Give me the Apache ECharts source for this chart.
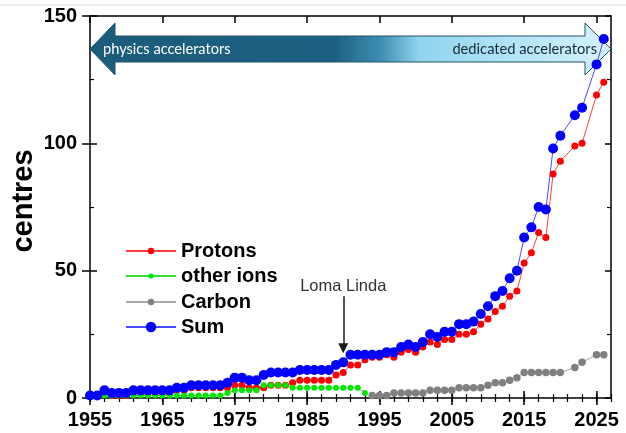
<!DOCTYPE html>
<html><head><meta charset="utf-8">
<script src="https://cdn.jsdelivr.net/npm/echarts@6/dist/echarts.min.js"></script>
<style>html,body{margin:0;padding:0;background:#fff}#c{width:626px;height:433px}</style>
</head><body><div id="c"></div>
<script>
// ---- data ----
const years = [
  1955,1956,1957,1958,1959,1960,1961,1962,1963,1964,
  1965,1966,1967,1968,1969,1970,1971,1972,1973,1974,
  1975,1976,1977,1978,1979,1980,1981,1982,1983,1984,
  1985,1986,1987,1988,1989,1990,1991,1992,1993,1994,
  1995,1996,1997,1998,1999,2000,2001,2002,2003,2004,
  2005,2006,2007,2008,2009,2010,2011,2012,2013,2014,
  2015,2016,2017,2018,2019,2020,
  2022,2023,2025,2026
];
const protons = [
  1,1,2,1,1,1,2,2,2,2,
  2,2,3,3,4,4,4,4,4,4,
  5,5,4,4,4,5,5,5,6,7,
  7,7,7,7,9,10,13,13,15,16,
  16,17,16,18,19,18,20,22,21,23,
  23,25,25,26,29,31,34,36,40,42,
  53,57,65,63,88,93,
  99,100,119,124
];
const otherIons = [
  null,null,1,1,1,1,1,1,1,1,
  1,1,1,1,1,1,1,1,1,2,
  3,3,3,3,5,5,5,5,4,4,
  4,4,4,4,4,4,4,4,2,null,
  null,null,null,null,null,null,null,null,null,null,
  null,null,null,null,null,null,null,null,null,null,
  null,null,null,null,null,null,
  null,null,null,null
];
const carbon = [
  null,null,null,null,null,null,null,null,null,null,
  null,null,null,null,null,null,null,null,null,null,
  null,null,null,null,null,null,null,null,null,null,
  null,null,null,null,null,null,null,null,null,1,
  1,1,2,2,2,2,2,3,3,3,
  3,4,4,4,4,5,6,6,7,8,
  10,10,10,10,10,10,
  12,14,17,17
];
const sum = [
  1,1,3,2,2,2,3,3,3,3,
  3,3,4,4,5,5,5,5,5,6,
  8,8,7,7,9,10,10,10,10,11,
  11,11,11,11,13,14,17,17,17,17,
  17,18,18,20,21,20,22,25,24,26,
  26,29,29,30,33,36,40,42,47,50,
  63,67,75,74,98,103,
  111,114,131,141
];
const seriesNames = ['Protons','other ions','Carbon','Sum'];
const xTicks = [1955,1965,1975,1985,1995,2005,2015,2025];
const yTicks = [0,50,100,150];
const xMinorTicks = [];
for (let y = 1955; y <= 2027; y += 2) xMinorTicks.push(y);
const annotationText = 'Loma Linda';
const annotationYear = 1990;
const bannerLeft = 'physics accelerators';
const bannerRight = 'dedicated accelerators';
const yTitle = 'centres';

// ---- chart ----
const FONT = '"Liberation Sans", Arial, Helvetica, sans-serif';
const toPairs = arr => years.map((y, i) => [y, arr[i]]).filter(p => p[1] !== null);

const blk = {color:'#000', width:1.5};
const hiddenX = {type:'value', min:1955, max:2027, interval:10, splitLine:{show:false},
  axisLine:{show:false}, axisLabel:{show:false}, axisTick:{show:false}};
const hiddenY = {type:'value', min:0, max:150, interval:50, splitLine:{show:false},
  axisLine:{show:false}, axisLabel:{show:false}, axisTick:{show:false}};

function mkSeries(name, data, color, lineColor, size) {
  return {
    name, type:'line', data: toPairs(data), xAxisIndex:0, yAxisIndex:0,
    symbol:'circle', symbolSize:size, showSymbol:true,
    itemStyle:{color, borderWidth:0},
    lineStyle:{color:lineColor, width:1},
    emphasis:{disabled:true}
  };
}

const legendBase = (name, top, h) => ({
  data:[name], left:125, top, orient:'vertical', padding:0,
  itemWidth:50, itemHeight:h, selectedMode:false,
  textStyle:{fontSize:20, fontWeight:'bold', color:'#000', fontFamily:FONT}
});

const sumSeries = mkSeries('Sum', sum, '#0000ff', '#4a4aff', 10);
sumSeries.markLine = {
  silent:true, symbol:['none','triangle'], symbolSize:10, animation:false,
  lineStyle:{color:'#1a1a1a', width:1.5, type:'solid'},
  label:{show:true, position:'start', formatter:annotationText, color:'#333',
    fontSize:16.5, fontFamily:FONT, distance:1},
  emphasis:{disabled:true},
  data:[[{coord:[annotationYear, 40]}, {coord:[annotationYear, 19.5]}]]
};

const option = {
  animation:false,
  backgroundColor:'#fff',
  grid:{left:90, right:15, top:16, bottom:35, containLabel:false},
  xAxis:[
    Object.assign({}, hiddenX, {position:'bottom',
      axisLine:{show:true, onZero:false, lineStyle:blk},
      axisTick:{show:true, inside:true, length:7, customValues:xTicks, lineStyle:blk},
      axisLabel:{show:true, customValues:xTicks, margin:12, fontSize:20, fontWeight:'bold',
        color:'#000', fontFamily:FONT, formatter: v => String(v)}}),
    Object.assign({}, hiddenX, {position:'bottom',
      axisTick:{show:true, inside:false, length:7, customValues:xTicks, lineStyle:blk}}),
    Object.assign({}, hiddenX, {position:'bottom',
      axisTick:{show:true, inside:true, length:4, customValues:xMinorTicks, lineStyle:{color:'#000', width:1.2}}}),
    Object.assign({}, hiddenX, {position:'top',
      axisLine:{show:true, onZero:false, lineStyle:blk},
      axisTick:{show:true, inside:true, length:7, customValues:xTicks, lineStyle:blk}}),
    Object.assign({}, hiddenX, {position:'top',
      axisTick:{show:true, inside:true, length:4, customValues:xMinorTicks, lineStyle:{color:'#000', width:1.2}}})
  ],
  yAxis:[
    Object.assign({}, hiddenY, {position:'left',
      axisLine:{show:true, onZero:false, lineStyle:blk},
      axisTick:{show:true, inside:true, length:7, customValues:yTicks, lineStyle:blk},
      minorTick:{show:true, splitNumber:2, length:4, lineStyle:{color:'#000', width:1.2}},
      axisLabel:{show:true, customValues:yTicks, margin:13, fontSize:20, fontWeight:'bold',
        color:'#000', fontFamily:FONT, formatter: v => String(v)}}),
    Object.assign({}, hiddenY, {position:'left',
      axisTick:{show:true, inside:false, length:8, customValues:yTicks, lineStyle:blk}}),
    Object.assign({}, hiddenY, {position:'right',
      axisLine:{show:true, onZero:false, lineStyle:blk},
      axisTick:{show:true, inside:true, length:6, customValues:yTicks, lineStyle:blk},
      minorTick:{show:true, splitNumber:2, length:4, lineStyle:{color:'#000', width:1.2}}})
  ],
  legend:[
    legendBase(seriesNames[0], 241, 8),
    legendBase(seriesNames[1], 266, 6.5),
    legendBase(seriesNames[2], 292, 8),
    legendBase(seriesNames[3], 317, 13)
  ],
  graphic:[
    {type:'line', z:0, shape:{x1:0, y1:5, x2:626, y2:5}, style:{stroke:'#dcdcdc', lineWidth:1}},
    {type:'polygon', z:1,
      shape:{points:[[90,49],[115,23],[115,36],[585,36],[585,23],[611,49],[585,75],[585,62],[115,62],[115,75]]},
      style:{
        fill:new echarts.graphic.LinearGradient(0,0,1,0,[
          {offset:0, color:'#1b5c7b'},
          {offset:0.47, color:'#1c6183'},
          {offset:0.56, color:'#3f8fb3'},
          {offset:0.63, color:'#90d4ee'},
          {offset:0.78, color:'#ace2f6'},
          {offset:1, color:'#d6f2fc'}
        ]),
        stroke:'#24536a', lineWidth:1
      }},
    {type:'text', z:1, x:103, y:49,
      style:{text:bannerLeft, fill:'#ffffff', fontSize:14.6, fontFamily:'Lato, "Open Sans", sans-serif',
        textAlign:'left', textVerticalAlign:'middle', align:'left', verticalAlign:'middle'}},
    {type:'text', z:1, x:597, y:49,
      style:{text:bannerRight, fill:'#1b2a33', fontSize:14.7, fontFamily:'Lato, "Open Sans", sans-serif',
        textAlign:'right', textVerticalAlign:'middle', align:'right', verticalAlign:'middle'}},
    {type:'text', z:1, x:24, y:201, rotation:Math.PI/2,
      style:{text:yTitle, fill:'#000', fontSize:29, fontWeight:'bold', fontFamily:FONT,
        textAlign:'center', textVerticalAlign:'middle', align:'center', verticalAlign:'middle'}}
  ],
  series:[
    mkSeries(seriesNames[0], protons, '#ff0000', '#ff4040', 7),
    mkSeries(seriesNames[1], otherIons, '#00e600', '#33dd33', 6),
    mkSeries(seriesNames[2], carbon, '#808080', '#a8a8a8', 7.5),
    sumSeries
  ]
};
const chart = echarts.init(document.getElementById('c'), null, {renderer:'canvas'});
chart.setOption(option);
</script>
</body></html>
